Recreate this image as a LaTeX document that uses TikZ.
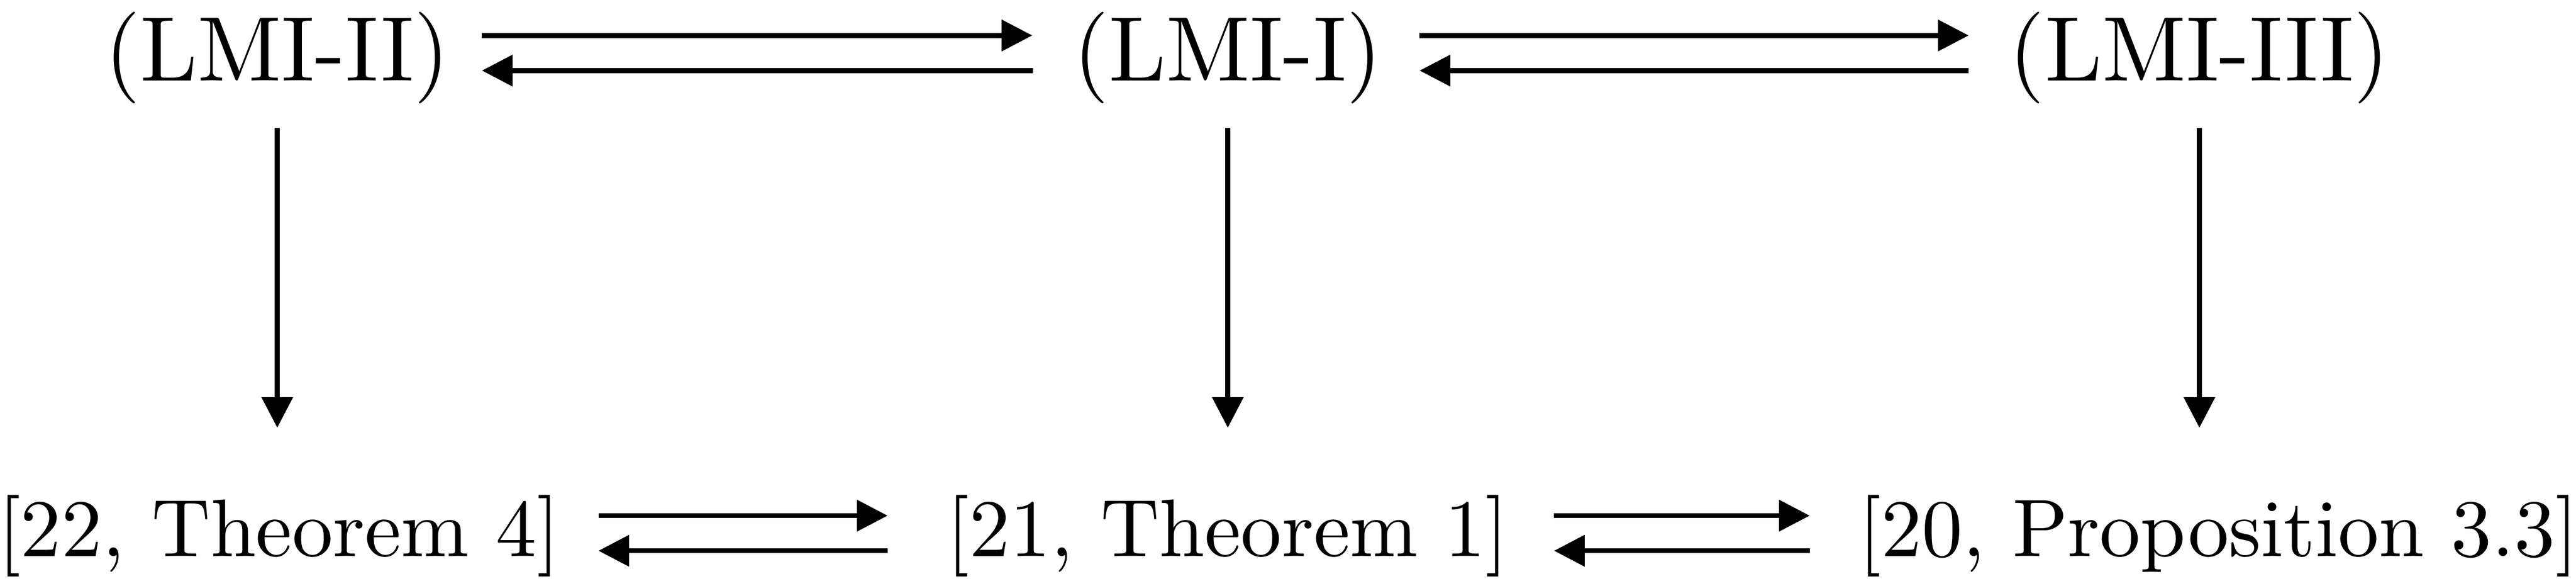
\documentclass[tikz,border=0pt]{standalone}
\usetikzlibrary{arrows.meta}
\newcommand\pieni[1]{\scalebox{0.89}{#1}}
\begin{document}
\begin{tikzpicture}[x=1pt,y=1pt,
  pil/.style={-{Triangle[length=3.35pt,width=3.33pt]},line width=0.54pt},
  rivi/.style={anchor=base}]
\useasboundingbox (0,0) rectangle (281.33,-63.91);
\node[rivi] (lmi2) at (30.28,-8.79) {(LMI-II)};
\node[rivi] (lmi1) at (134.09,-8.79) {(LMI-I)};
\node[rivi] (lmi3) at (240.2,-8.79) {(LMI-III)};
\node[rivi] (lause4) at (30.44,-60.66) {\pieni{[22, Theorem 4]}};
\node[rivi] (lause1) at (134.07,-60.66) {\pieni{[21, Theorem 1]}};
\node[rivi] (prop33) at (242.26,-60.66) {\pieni{[20, Proposition 3.3]}};
\draw[pil,shorten >=0.94pt] ([yshift=2.42pt]lmi2.east) -- ([yshift=2.42pt]lmi1.west);
\draw[pil,shorten <=0.86pt] ([yshift=-1.41pt]lmi1.west) -- ([yshift=-1.41pt]lmi2.east);
\draw[pil,shorten <=0.54pt,shorten >=0.9pt] ([yshift=2.42pt]lmi1.east) -- ([yshift=2.42pt]lmi3.west);
\draw[pil,shorten <=0.9pt,shorten >=0.54pt] ([yshift=-1.41pt]lmi3.west) -- ([yshift=-1.41pt]lmi1.east);
\draw[pil,shorten <=0.72pt,shorten >=2.93pt] ([yshift=2.19pt]lause4.east) -- ([yshift=2.19pt]lause1.west);
\draw[pil,shorten <=2.93pt,shorten >=0.72pt] ([yshift=-1.64pt]lause1.west) -- ([yshift=-1.64pt]lause4.east);
\draw[pil,shorten <=1.45pt,shorten >=1.79pt] ([yshift=2.19pt]lause1.east) -- ([yshift=2.19pt]prop33.west);
\draw[pil,shorten <=1.79pt,shorten >=1.45pt] ([yshift=-1.64pt]prop33.west) -- ([yshift=-1.64pt]lause1.east);
\draw[pil,shorten <=-0.87pt,shorten >=3.79pt] (lmi2.south) -- (lmi2.south |- lause4.north);
\draw[pil,shorten <=-0.87pt,shorten >=3.79pt] (lmi1.south) -- (lmi1.south |- lause1.north);
\draw[pil,shorten <=-0.87pt,shorten >=3.79pt] (lmi3.south) -- (lmi3.south |- prop33.north);
\end{tikzpicture}
\end{document}
